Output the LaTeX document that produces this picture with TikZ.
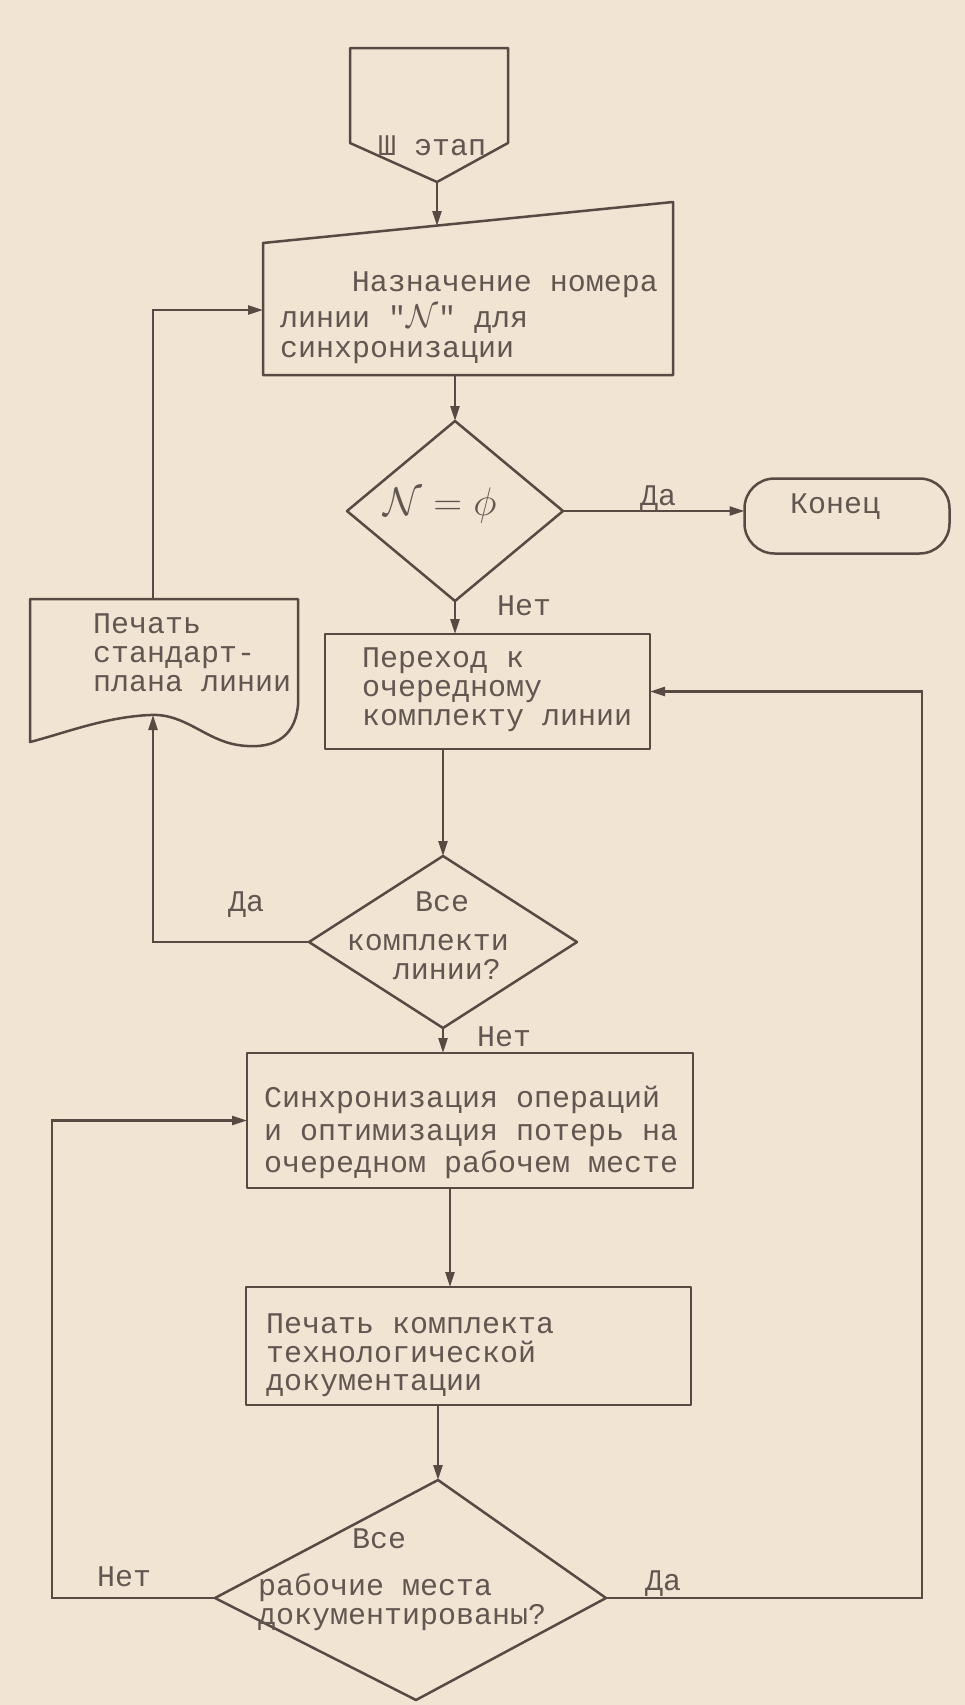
\RequirePackage{fix-cm}
\documentclass[tikz,border=0pt]{standalone}
\usepackage{fontspec}
\setmonofont{Liberation Mono}
\usetikzlibrary{arrows.meta,shapes.geometric,calc}
\definecolor{paper}{RGB}{241,228,211}
\definecolor{ink}{RGB}{88,74,66}
\definecolor{txtc}{RGB}{98,86,80}
\tikzset{
  tx/.style={font=\ttfamily\fontsize{30}{30}\selectfont, text=txtc, inner sep=0pt, anchor=base west},
  shp/.style={draw=ink, line width=2.5pt, line join=round},
  ghost/.style={draw=none, inner sep=0pt, outer sep=0pt},
  flow/.style={draw=ink, line width=2.3pt, -{Triangle[length=15pt,width=9pt]}},
  dia/.style={diamond, shp, inner sep=0pt, outer sep=0pt},
  blk/.style={rectangle, shp, inner sep=0pt, outer sep=0pt},
}
\begin{document}
\begin{tikzpicture}[x=1pt,y=-1pt]
\fill[paper] (0,0) rectangle (965,1705);
\useasboundingbox (0,0) rectangle (965,1705);

% off-page connector
\draw[shp] (350,48) -- (508,48) -- (508,143) -- (437,182) -- (350,143) -- cycle;
\coordinate (conn) at (437,182);
\node[tx] (connT) at (378,155) {Ш этап};

% manual input
\node[ghost, minimum width=410pt, minimum height=173pt] (inp) at (468,288.5) {};
\draw[shp] (inp.south west) -- (inp.south east) -- (inp.north east) -- ($(inp.north west)+(0,41)$) -- cycle;
\coordinate (inptop) at (437,226);
\coordinate (inpleft) at (263,310);
\node[tx, anchor=base east] (inpA) at (658,291) {Назначение номера};
\node[tx] (inpB) at (280,327) {линии "{\fontsize{33}{33}\selectfont$\mathcal{N}$}" для};
\node[tx] (inpC) at (280,357) {синхронизации};
\draw[flow] (conn) -- (inptop);

% decision 1
\node[dia, minimum width=216pt, minimum height=180pt] (dec1) at (455,511) {};
\node[font=\fontsize{40}{40}\selectfont, text=txtc, inner sep=0pt] (dec1T) at (440,505) {$\mathcal{N}=\phi$};
\draw[flow] (dec1.north |- inp.south) -- (dec1.north);

% end terminal
\node[blk, rounded corners=30pt, minimum width=205pt, minimum height=75pt] (end) at (847,516) {};
\node[tx] (endT) at (790,513) {Конец};
\draw[flow] (dec1.east) -- (dec1.east -| end.west);
\node[tx] (yes1) at (640,505) {Да};
\node[tx] (no1) at (497,615) {Нет};

% document
\draw[shp] (30,599) -- (298,599) -- (298,705) .. controls (295,740) and (270,750) .. (238,745)
  .. controls (205,740) and (185,713) .. (150,715) .. controls (105,717) and (65,733) .. (30,742) -- cycle;
\coordinate (doctop) at (153,599);
\coordinate (docbot) at (153,715);
\node[tx] (docA) at (93,633) {Печать};
\node[tx] (docB) at (93,662) {стандарт-};
\node[tx] (docC) at (93,691) {плана линии};

% box 2
\node[blk, minimum width=325pt, minimum height=115pt] (box2) at (487.5,691.5) {};
\node[tx] (box2A) at (362,667) {Переход к};
\node[tx] (box2B) at (362,696) {очередному};
\node[tx] (box2C) at (362,725) {комплекту линии};
\draw[flow] (dec1.south) -- (dec1.south |- box2.north);

% decision 2
\node[dia, minimum width=268pt, minimum height=172pt] (dec2) at (443,942) {};
\node[tx, anchor=base] (dec2A) at (442,911) {Все};
\node[tx, anchor=base] (dec2B) at (428,950) {комплекти};
\node[tx, anchor=base] (dec2C) at (447,979) {линии?};
\draw[flow] (dec2.north |- box2.south) -- (dec2.north);
\coordinate (lx) at (153,0);
\draw[flow] (dec2.west) -- (dec2.west -| lx) -- (docbot);
\draw[flow] (doctop) -- (doctop |- inpleft) -- (inpleft);
\node[tx] (yes2) at (228,911) {Да};
\node[tx] (no2) at (477,1046) {Нет};

% box 3
\node[blk, minimum width=446pt, minimum height=135pt] (box3) at (470,1120.5) {};
\node[tx] (box3A) at (264,1107) {Синхронизация операций};
\node[tx] (box3B) at (264,1140) {и оптимизация потерь на};
\node[tx] (box3C) at (264,1172) {очередном рабочем месте};
\draw[flow] (dec2.south) -- (dec2.south |- box3.north);

% box 4
\node[blk, minimum width=445pt, minimum height=118pt] (box4) at (468.5,1346) {};
\node[tx] (box4A) at (266,1333) {Печать комплекта};
\node[tx] (box4B) at (266,1362) {технологической};
\node[tx] (box4C) at (266,1390) {документации};
\coordinate (c34) at (450,0);
\draw[flow] (c34 |- box3.south) -- (c34 |- box4.north);

% decision 3 (slightly skewed, as printed)
\coordinate (d3t) at (438,1480);
\coordinate (d3r) at (606,1598);
\coordinate (d3b) at (416,1700);
\coordinate (d3l) at (215,1598);
\draw[shp] (d3t) -- (d3r) -- (d3b) -- (d3l) -- cycle;
\node[tx] (dec3A) at (352,1548) {Все};
\node[tx] (dec3B) at (258,1595) {рабочие места};
\node[tx] (dec3C) at (258,1624) {документированы?};
\draw[flow] (d3t |- box4.south) -- (d3t);
\coordinate (lx2) at (52,0);
\draw[flow] (d3l) -- (d3l -| lx2) -- (lx2 |- box3.west) -- (box3.west);
\coordinate (rx) at (922,0);
\draw[flow] (d3r) -- (d3r -| rx) -- (rx |- box2.east) -- (box2.east);
\node[tx] (no3) at (97,1586) {Нет};
\node[tx] (yes3) at (645,1590) {Да};
\end{tikzpicture}
\end{document}
